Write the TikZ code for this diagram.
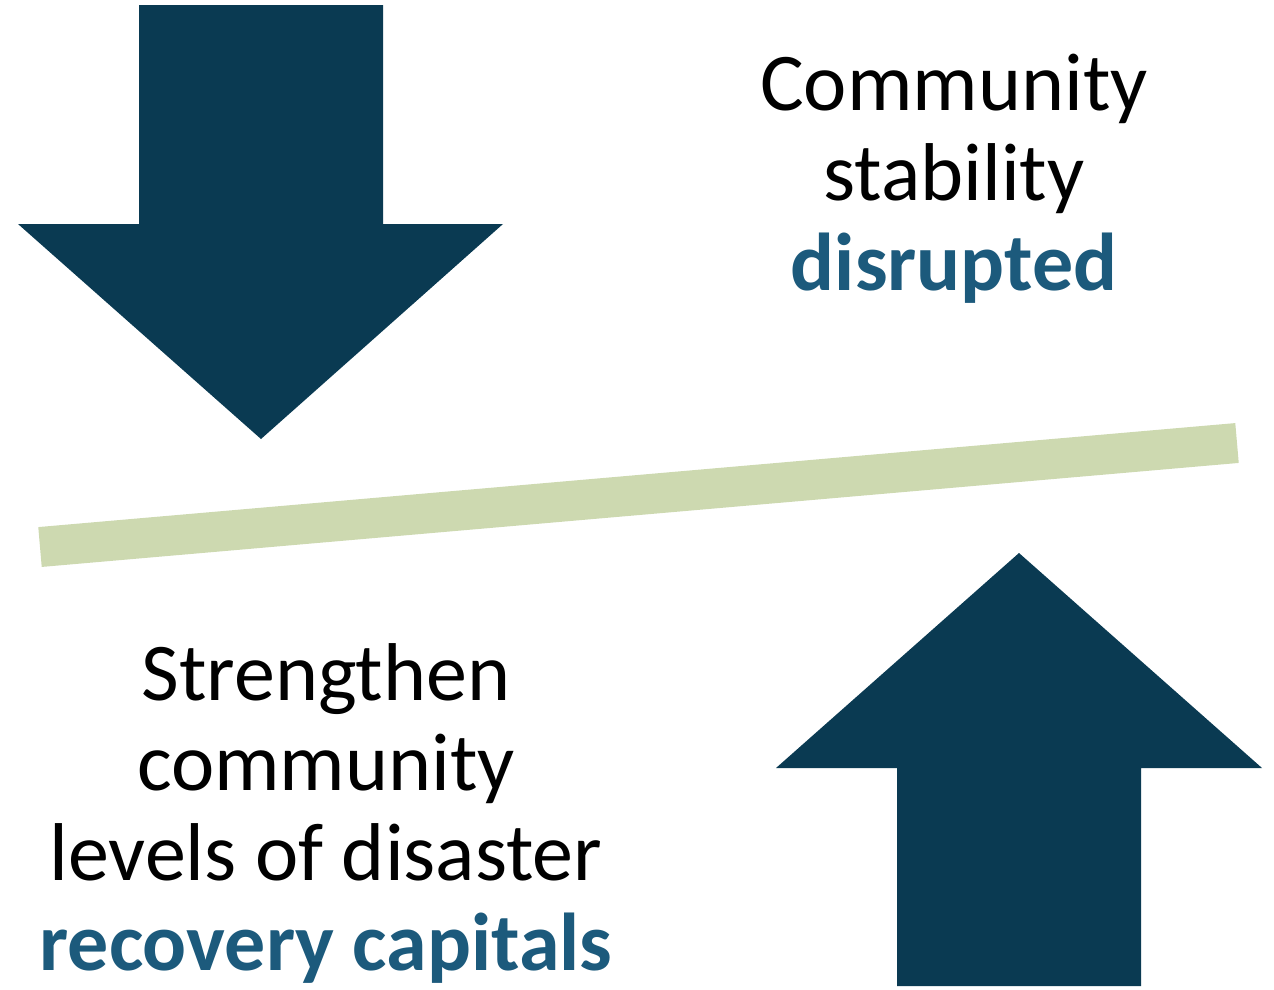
\documentclass[tikz,border=0pt]{standalone}
\usepackage{fontspec}
\setmainfont{Carlito}
\definecolor{arrowteal}{HTML}{0A3A52}
\definecolor{accentblue}{HTML}{1C5A7C}
\definecolor{barsage}{HTML}{CDD9B0}
\begin{document}
\begin{tikzpicture}[x=1pt,y=-1pt,
  lbl/.style={anchor=base,inner sep=0pt,font=\fontsize{82}{90}\selectfont},
  em/.style={lbl,font=\fontsize{82}{90}\selectfont\bfseries,text=accentblue},
  bigarrow/.style={fill=arrowteal}]
\useasboundingbox (0,0) rectangle (1274,989);
% down arrow
\fill[bigarrow] (139,5) -- (383,5) -- (383,224) -- (503,224) -- (261,439) -- (18,224) -- (139,224) -- cycle;
% up arrow
\fill[bigarrow] (1019,553) -- (1262,768) -- (1141,768) -- (1141,986) -- (897,986) -- (897,768) -- (776,768) -- cycle;
% balance bar
\draw[barsage,line width=40pt] (40,547) -- (1237,443);
% top text
\node[lbl] (t1) at (954,110) {Community};
\node[lbl] (t2) at (954,200) {stability};
\node[em]  (t3) at (954,290) {disrupted};
% bottom text
\node[lbl] (b1) at (326,700) {Strengthen};
\node[lbl] (b2) at (326,790) {community};
\node[lbl] (b3) at (326,880) {levels of disaster};
\node[em]  (b4) at (326,970) {recovery capitals};
\end{tikzpicture}
\end{document}
